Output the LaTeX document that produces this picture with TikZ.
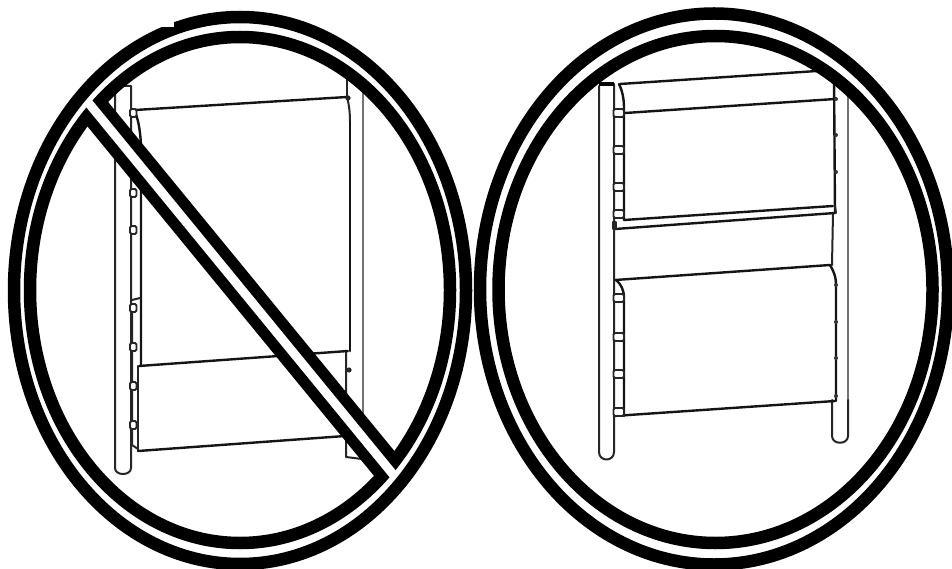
\documentclass[tikz,border=0pt]{standalone}
\tikzset{
  x=1pt,y=-1pt,
  ring/.style={draw=black,line width=12.5pt},
  heavy/.style={draw=black!92,line width=2.4pt,line cap=round,line join=round},
  thin rail/.style={draw=black!85,line width=2pt,line cap=round,line join=round},
  faint/.style={draw=black!55,line width=2.2pt,line cap=round,line join=round},
  knob/.style={draw=black!85,line width=1.8pt,fill=white,rounded corners=1.5pt},
}
\begin{document}
\begin{tikzpicture}
\useasboundingbox (0,0) rectangle (952,569);
\clip (0,0) rectangle (952,569);
\fill[white] (0,0) rectangle (952,569);

% ---------- left rack (crossed out)
\draw[thin rail] (115,90) -- (115,468)
      .. controls (115,476) and (131,476) .. (131,468) -- (131,86) -- (118,86) -- (115,90);
\draw[faint] (363,80) -- (363,458);
\draw[thin rail] (347,78) -- (347,97);
\draw[thin rail] (346,351) -- (346,457) -- (362,459);
\draw[heavy] (134,110) .. controls (138,118) and (140,128) .. (141,145) -- (141,365);
\draw[thin rail] (132,300) -- (140,298);
\draw[thin rail] (138,366) -- (138,451);
\draw[heavy] (135,110) -- (347,97);
\draw[thin rail] (347,97) .. controls (349,105) and (350,112) .. (350,122);
\draw[heavy,line width=2.8pt] (350,122) -- (350,351);
\draw[heavy] (139,366) -- (348,351);
\draw[heavy] (138,451) -- (345,436);
\draw[thin rail] (132,305) -- (132,445) -- (138,449);
\foreach \y in {113,193,230,308,347,386,425}
  \draw[knob] (130,\y-4) rectangle (136.5,\y+4);
\fill[black!85] (349,370) circle (2.6);
\fill[black!85] (348,98) circle (2.6);

% ---------- right rack
\draw[thin rail] (599,86) -- (599,452) .. controls (599,462) and (614,462) .. (614,452) -- (614,84);
\draw[draw=black,line width=3.6pt] (599,84) -- (614,84);
\draw[faint] (848,84) -- (848,400);
\draw[thin rail] (848,400) -- (848,436) .. controls (848,445) and (832,445) .. (832,436) -- (832,400);
\draw[thin rail] (833,213) -- (832,265);
\draw[heavy] (620,84) -- (817,71) -- (833,71);
\draw[heavy] (619,84) .. controls (622,90) and (624,98) .. (624,108) -- (624,220);
\draw[heavy] (625,113) -- (835,99);
\draw[heavy] (834,75) -- (835,213);
\draw[heavy] (624,220) -- (833,206);
\draw[heavy] (615,229) -- (835,213);
\draw[thin rail] (835,206) -- (836,213);
\draw[heavy] (615,280) -- (830,265);
\draw[heavy] (616,280) .. controls (621,284) and (624,290) .. (624,298) -- (624,416);
\draw[heavy] (830,265) .. controls (833,270) and (836,276) .. (836,285) -- (836,401);
\draw[heavy] (614,416) -- (835,401);
\foreach \y in {113,150,187,214,298,337,374,412}
  \draw[knob] (613.5,\y-4) rectangle (624,\y+4);
\draw[thin rail] (613,222) rectangle (616,229);
\foreach \y in {99,135,172,285,322,358,396}
  \fill[black!80] (836,\y) circle (2);

% ---------- left sign
\draw[ring] (240,290.5) ellipse [x radius=226,y radius=273.5];
\fill[white] (140,0) rectangle (174,26.8);
\draw[ring] (240,290) ellipse [x radius=210,y radius=253];
\begin{scope}
  \clip (240,290) ellipse [x radius=212,y radius=255];
  \draw[draw=black,line width=31.5pt] (80,92.5) -- (400,482.7);
\end{scope}
\begin{scope}
  \clip (240,290) ellipse [x radius=218,y radius=263.5];
  \draw[draw=white,line width=9pt] (70,80.3) -- (410,495);
\end{scope}

% ---------- right sign
\draw[ring] (714,289) ellipse [x radius=234,y radius=275.5];
\draw[ring] (715.5,289.5) ellipse [x radius=217,y radius=253.5];
\end{tikzpicture}
\end{document}
